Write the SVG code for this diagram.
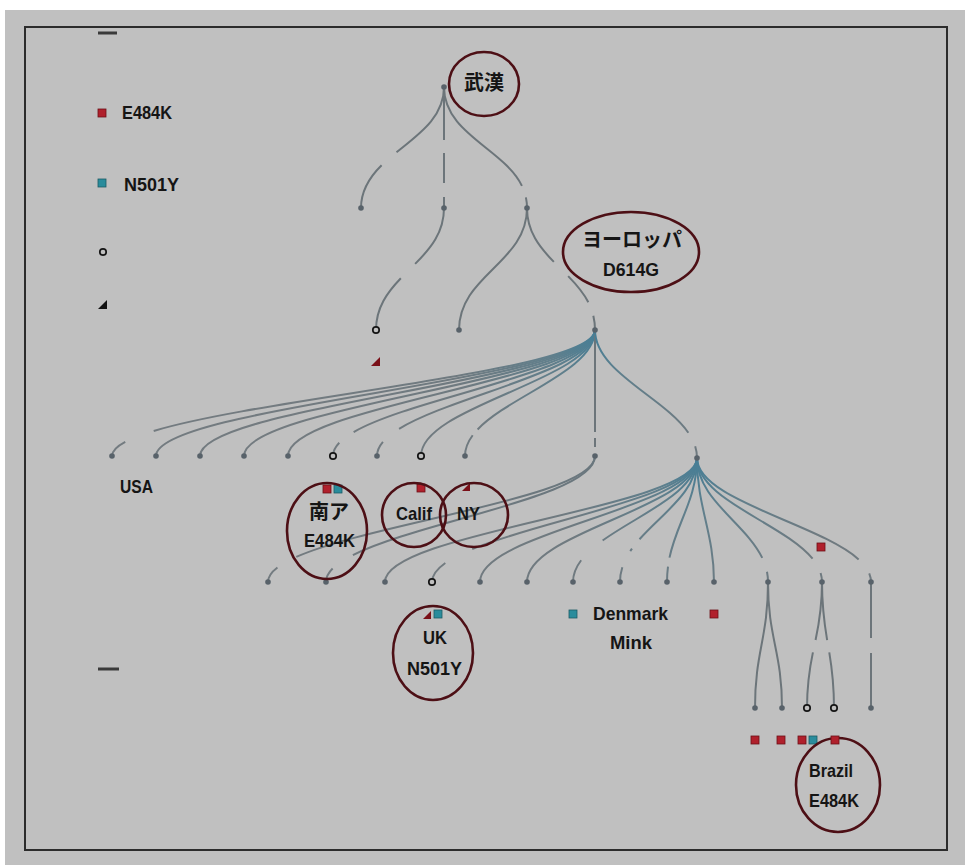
<svg xmlns="http://www.w3.org/2000/svg" width="965" height="865" viewBox="0 0 965 865">
<defs>
<style>
.edge{fill:none;stroke:#6c757a;stroke-width:2}
.f1{stroke:url(#g1)}
.f2{stroke:url(#g2)}
.f3{stroke:url(#g3)}
.dot{fill:#58626a}
.open{fill:#c0c0c0;stroke:#151515;stroke-width:1.7}
.ring{fill:none;stroke:#4d0f15;stroke-width:2.6}
.t{font-family:"Liberation Sans","Noto Sans CJK JP",sans-serif;font-weight:bold;font-size:19px;fill:#151515}
.j{font-family:"Noto Sans CJK JP","Noto Sans CJK SC",sans-serif;font-weight:bold;font-size:20px;fill:#151515}
.red{fill:#b0202c;stroke:#6e1018;stroke-width:0.8}
.teal{fill:#2a8c9c;stroke:#1c5c66;stroke-width:0.8}
.tri-r{fill:#7a1018}
.dash{stroke:#3a3a3a;stroke-width:3}
</style>
<radialGradient id="g1" gradientUnits="userSpaceOnUse" cx="595" cy="335" r="320">
<stop offset="0" stop-color="#467e96"/><stop offset="0.15" stop-color="#607f8c"/><stop offset="0.45" stop-color="#6f7a80"/><stop offset="1" stop-color="#737b80"/>
</radialGradient>
<radialGradient id="g2" gradientUnits="userSpaceOnUse" cx="595" cy="458" r="320">
<stop offset="0" stop-color="#6a777e"/><stop offset="1" stop-color="#737b80"/>
</radialGradient>
<radialGradient id="g3" gradientUnits="userSpaceOnUse" cx="697" cy="462" r="320">
<stop offset="0" stop-color="#467e96"/><stop offset="0.15" stop-color="#607f8c"/><stop offset="0.45" stop-color="#6f7a80"/><stop offset="1" stop-color="#737b80"/>
</radialGradient>
</defs>

<rect x="0" y="0" width="965" height="865" fill="#ffffff"/>
<rect x="5" y="10" width="960" height="855" fill="#c0c0c0"/>
<rect x="25" y="27" width="922" height="823" fill="none" stroke="#2c2c2c" stroke-width="2"/>

<g id="legend">
<line class="dash" x1="98" y1="33" x2="117" y2="33"/>
<rect class="red" x="98" y="109" width="8" height="8"/>
<text class="t" x="122" y="119" textLength="50" lengthAdjust="spacingAndGlyphs">E484K</text>
<rect class="teal" x="98" y="179" width="8" height="8"/>
<text class="t" x="124" y="191" textLength="55" lengthAdjust="spacingAndGlyphs">N501Y</text>
<circle class="open" cx="103" cy="252" r="3.2"/>
<polygon points="98,309 107,309 107,300" fill="#111"/>
<line class="dash" x1="98" y1="669" x2="119" y2="669"/>
</g>

<g id="connectors">
<!-- top tree -->
<path class="edge" pathLength="100" stroke-dasharray="55 13 100" d="M444,87 C444,142 361,153 361,208"/>
<path class="edge" stroke-dasharray="53 13 30 14 30" d="M444,87 L444,208"/>
<path class="edge" pathLength="100" stroke-dasharray="85 8 100" d="M444,87 C444,142 527,153 527,208"/>
<path class="edge" pathLength="100" stroke-dasharray="45 14 100" d="M444,208 C444,263 376,275 376,330"/>
<path class="edge" d="M527,208 C527,263 459,275 459,330"/>
<path class="edge" pathLength="100" stroke-dasharray="43 14 23 10 100" d="M527,208 C527,263 595,275 595,330"/>
<!-- fan 1 -->
<path class="edge f1" pathLength="100" stroke-dasharray="90 6 100" d="M595,330 C595,380 112,406 112,456"/>
<path class="edge f1" d="M595,330 C595,380 156,406 156,456"/>
<path class="edge f1" d="M595,330 C595,380 200,406 200,456"/>
<path class="edge f1" d="M595,330 C595,380 244,406 244,456"/>
<path class="edge f1" d="M595,330 C595,380 288,406 288,456"/>
<path class="edge f1" pathLength="100" stroke-dasharray="89 6 100" d="M595,330 C595,380 333,406 333,456"/>
<path class="edge f1" pathLength="100" stroke-dasharray="86 8 100" d="M595,330 C595,380 377,406 377,456"/>
<path class="edge f1" d="M595,330 C595,380 421,406 421,456"/>
<path class="edge f1" pathLength="100" stroke-dasharray="84 4 100" d="M595,330 C595,380 465,406 465,456"/>
<path class="edge" stroke-dasharray="102 6 9 20" d="M595,330 L595,456"/>
<path class="edge f1" pathLength="100" stroke-dasharray="84 9 100" d="M595,330 C595,381 697,407 697,458"/>
<!-- fan 2 -->
<path class="edge f2" pathLength="100" stroke-dasharray="89 6 100" d="M595,456 C595,506 268,532 268,582"/>
<path class="edge f2" pathLength="100" stroke-dasharray="87 8 100" d="M595,456 C595,506 326,532 326,582"/>
<!-- fan 3 -->
<path class="edge f3" d="M697,458 C697,508 385,532 385,582"/>
<path class="edge f3" pathLength="100" stroke-dasharray="82 10 100" d="M697,458 C697,508 432,532 432,582"/>
<path class="edge f3" d="M697,458 C697,508 480,532 480,582"/>
<path class="edge f3" d="M697,458 C697,508 527,532 527,582"/>
<path class="edge f3" pathLength="100" stroke-dasharray="71 16 100" d="M697,458 C697,508 573,532 573,582"/>
<path class="edge f3" pathLength="100" stroke-dasharray="68 8 2 12 100" d="M697,458 C697,508 620,532 620,582"/>
<path class="edge f3" pathLength="100" stroke-dasharray="81 7 100" d="M697,458 C697,508 667,532 667,582"/>
<path class="edge f3" d="M697,458 C697,508 714,532 714,582"/>
<path class="edge f3" pathLength="100" stroke-dasharray="83 10 100" d="M697,458 C697,508 768,532 768,582"/>
<path class="edge f3" pathLength="100" stroke-dasharray="86 9 100" d="M697,458 C697,508 822,532 822,582"/>
<path class="edge f3" pathLength="100" stroke-dasharray="88 8 100" d="M697,458 C697,508 871,532 871,582"/>
<!-- level 4 -->
<path class="edge" d="M768,582 C768,639 755,651 755,708"/>
<path class="edge" d="M768,582 C768,639 782,651 782,708"/>
<path class="edge" pathLength="100" stroke-dasharray="46 10 100" d="M822,582 C822,639 807,651 807,708"/>
<path class="edge" pathLength="100" stroke-dasharray="46 10 100" d="M822,582 C822,639 834,651 834,708"/>
<path class="edge" stroke-dasharray="56 15 100" d="M871,582 L871,708"/>
</g>

<g id="nodes">
<g id="n-root"><circle class="dot" cx="444" cy="87" r="2.8"/></g>
<g id="n-a1"><circle class="dot" cx="361" cy="208" r="2.8"/></g>
<g id="n-a2"><circle class="dot" cx="444" cy="208" r="2.8"/></g>
<g id="n-a3"><circle class="dot" cx="527" cy="208" r="2.8"/></g>
<g id="n-b1"><circle class="open" cx="376" cy="330" r="3.2"/><polygon class="tri-r" points="371,366 380,366 380,357"/></g>
<g id="n-b2"><circle class="dot" cx="459" cy="330" r="2.8"/></g>
<g id="n-europe"><circle class="dot" cx="595" cy="330" r="2.8"/></g>
<g id="n-c1"><circle class="dot" cx="112" cy="456" r="2.8"/></g>
<g id="n-c2"><circle class="dot" cx="156" cy="456" r="2.8"/></g>
<g id="n-c3"><circle class="dot" cx="200" cy="456" r="2.8"/></g>
<g id="n-c4"><circle class="dot" cx="244" cy="456" r="2.8"/></g>
<g id="n-c5"><circle class="dot" cx="288" cy="456" r="2.8"/></g>
<g id="n-c6"><circle class="open" cx="333" cy="456" r="3.2"/></g>
<g id="n-c7"><circle class="dot" cx="377" cy="456" r="2.8"/></g>
<g id="n-c8"><circle class="open" cx="421" cy="456" r="3.2"/></g>
<g id="n-c9"><circle class="dot" cx="465" cy="456" r="2.8"/></g>
<g id="n-c10"><circle class="dot" cx="595" cy="456" r="2.8"/></g>
<g id="n-c11"><circle class="dot" cx="697" cy="458" r="2.8"/></g>
<g id="n-d1"><circle class="dot" cx="268" cy="582" r="2.8"/></g>
<g id="n-d2"><circle class="dot" cx="326" cy="582" r="2.8"/></g>
<g id="n-d3"><circle class="dot" cx="385" cy="582" r="2.8"/></g>
<g id="n-d4"><circle class="open" cx="432" cy="582" r="3.2"/></g>
<g id="n-d5"><circle class="dot" cx="480" cy="582" r="2.8"/></g>
<g id="n-d6"><circle class="dot" cx="527" cy="582" r="2.8"/></g>
<g id="n-d7"><circle class="dot" cx="573" cy="582" r="2.8"/></g>
<g id="n-d8"><circle class="dot" cx="620" cy="582" r="2.8"/></g>
<g id="n-d9"><circle class="dot" cx="667" cy="582" r="2.8"/></g>
<g id="n-d10"><circle class="dot" cx="714" cy="582" r="2.8"/></g>
<g id="n-d11"><circle class="dot" cx="768" cy="582" r="2.8"/></g>
<g id="n-d12"><circle class="dot" cx="822" cy="582" r="2.8"/><rect class="red" x="817" y="543" width="8" height="8"/></g>
<g id="n-d13"><circle class="dot" cx="871" cy="582" r="2.8"/></g>
<g id="n-e1"><circle class="dot" cx="755" cy="708" r="2.8"/></g>
<g id="n-e2"><circle class="dot" cx="782" cy="708" r="2.8"/></g>
<g id="n-e3"><circle class="open" cx="807" cy="708" r="3.2"/></g>
<g id="n-e4"><circle class="open" cx="834" cy="708" r="3.2"/></g>
<g id="n-e5"><circle class="dot" cx="871" cy="708" r="2.8"/></g>
</g>

<g id="label-wuhan">
<ellipse class="ring" cx="484" cy="84" rx="35" ry="32"/>
<text class="j" x="464" y="90" font-size="21">武漢</text>
</g>
<g id="label-europe">
<ellipse class="ring" cx="631" cy="252" rx="68" ry="40"/>
<text class="j" x="582" y="247">ヨーロッパ</text>
<text class="t" x="603" y="276" textLength="56" lengthAdjust="spacingAndGlyphs">D614G</text>
</g>
<g id="label-usa">
<text class="t" x="120" y="493" textLength="33" lengthAdjust="spacingAndGlyphs">USA</text>
</g>
<g id="label-sa">
<rect class="red" x="323" y="485" width="8" height="8"/>
<rect class="teal" x="334" y="485" width="8" height="8"/>
<ellipse class="ring" cx="327" cy="531" rx="40" ry="48"/>
<text class="j" x="309" y="519">南ア</text>
<text class="t" x="304" y="547" textLength="51" lengthAdjust="spacingAndGlyphs">E484K</text>
</g>
<g id="label-calif">
<rect class="red" x="417" y="484" width="8" height="8"/>
<ellipse class="ring" cx="414" cy="515" rx="32" ry="32"/>
<text class="t" x="396" y="520" textLength="36" lengthAdjust="spacingAndGlyphs">Calif</text>
</g>
<g id="label-ny">
<polygon class="tri-r" points="462,491 470,491 470,483"/>
<ellipse class="ring" cx="474" cy="515" rx="34" ry="32"/>
<text class="t" x="457" y="520" textLength="23" lengthAdjust="spacingAndGlyphs">NY</text>
</g>
<g id="label-uk">
<polygon class="tri-r" points="423,619 431,619 431,611"/>
<rect class="teal" x="434" y="610" width="8" height="8"/>
<ellipse class="ring" cx="433" cy="653" rx="40" ry="47"/>
<text class="t" x="423" y="644" textLength="24" lengthAdjust="spacingAndGlyphs">UK</text>
<text class="t" x="407" y="675" textLength="55" lengthAdjust="spacingAndGlyphs">N501Y</text>
</g>
<g id="label-denmark">
<rect class="teal" x="569" y="610" width="8" height="8"/>
<text class="t" x="593" y="620" textLength="75" lengthAdjust="spacingAndGlyphs">Denmark</text>
<text class="t" x="610" y="649" textLength="42" lengthAdjust="spacingAndGlyphs">Mink</text>
<rect class="red" x="710" y="610" width="8" height="8"/>
</g>
<g id="label-brazil">
<rect class="red" x="751" y="736" width="8" height="8"/>
<rect class="red" x="777" y="736" width="8" height="8"/>
<rect class="red" x="798" y="736" width="8" height="8"/>
<rect class="teal" x="809" y="736" width="8" height="8"/>
<ellipse class="ring" cx="838" cy="785" rx="42" ry="47"/>
<rect class="red" x="831" y="736" width="8" height="8"/>
<text class="t" x="809" y="777" textLength="44" lengthAdjust="spacingAndGlyphs">Brazil</text>
<text class="t" x="809" y="807" textLength="50" lengthAdjust="spacingAndGlyphs">E484K</text>
</g>
</svg>
